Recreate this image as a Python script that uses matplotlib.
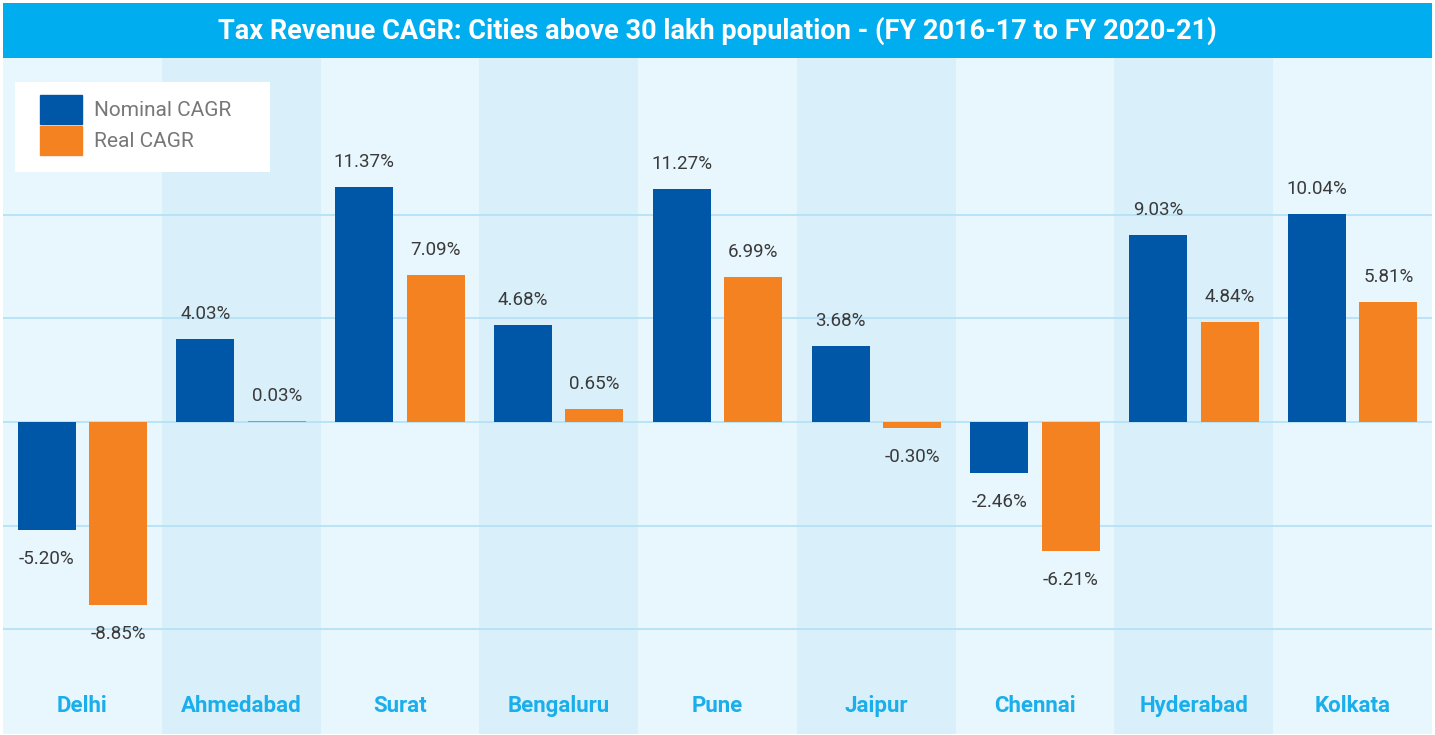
import numpy as np
import matplotlib.pyplot as plt
from matplotlib.patches import Rectangle, Patch

cities = ["Delhi", "Ahmedabad", "Surat", "Bengaluru", "Pune", "Jaipur", "Chennai", "Hyderabad", "Kolkata"]
nominal = [-5.20, 4.03, 11.37, 4.68, 11.27, 3.68, -2.46, 9.03, 10.04]
real = [-8.85, 0.03, 7.09, 0.65, 6.99, -0.30, -6.21, 4.84, 5.81]

title = "Tax Revenue CAGR: Cities above 30 lakh population - (FY 2016-17 to FY 2020-21)"

blue = "#0057A8"
orange = "#F58220"
sky = "#00AEEF"
W, H = 1435, 735

plt.rcParams['font.family'] = ['Roboto', 'DejaVu Sans']
fig = plt.figure(figsize=(W / 100, H / 100), dpi=100)
fig.patch.set_facecolor("white")

# title bar
fig.patches.append(Rectangle((3 / W, 1 - 58 / H), 1429 / W, 55 / H, transform=fig.transFigure,
                             facecolor=sky, edgecolor="none", zorder=0))
fig.text(0.5, 1 - 31 / H, title, color="white", fontsize=19.5, fontweight="bold",
         ha="center", va="center")

AW, AH = 1429, 676
ax = fig.add_axes([3 / W, 1 / H, AW / W, AH / H])
x = np.arange(len(cities))
ax.set_xlim(-0.5, len(cities) - 0.5)
ax.set_ylim(-15.07, 17.58)

# alternating column bands
for i in x:
    ax.axvspan(i - 0.5, i + 0.5, color="#E8F6FD" if i % 2 == 0 else "#D9F0FB", zorder=0, lw=0)

for yv in [-10, -5, 0, 5, 10]:
    ax.axhline(yv, color="#B3E0F7", lw=1.2, zorder=1)

w = 0.365
off = 0.225
b1 = ax.bar(x - off, nominal, w, color=blue, zorder=2)
b2 = ax.bar(x + off, real, w, color=orange, zorder=2)

for bars, vals in [(b1, nominal), (b2, real)]:
    for b, v in zip(bars, vals):
        dy = 18 if v >= 0 else -21
        ax.annotate(f"{v:.2f}%", (b.get_x() + b.get_width() / 2, v), xytext=(0, dy),
                    textcoords="offset points", ha="center", va="center",
                    fontsize=13.5, color="#3a3a3a", zorder=3)

for i, c in enumerate(cities):
    ax.text(i, 28 / AH, c, transform=ax.get_xaxis_transform(), ha="center", va="center",
            fontsize=16, fontweight="bold", color="#1AAEEB")

ax.set_xticks([])
ax.set_yticks([])
for s in ax.spines.values():
    s.set_visible(False)

# legend: white box plus frameless legend inside
ax.add_patch(Rectangle((12 / AW, 1 - 114 / AH), 255 / AW, 90 / AH, transform=ax.transAxes,
                       facecolor="white", edgecolor="none", zorder=4))
handles = [Patch(color=blue, label="Nominal CAGR"), Patch(color=orange, label="Real CAGR")]
leg = ax.legend(handles=handles, loc="upper left", bbox_to_anchor=(37 / AW, 1 - 37 / AH),
                frameon=False, fontsize=15, labelcolor="#777777",
                handlelength=2.0, handleheight=1.75, borderpad=0, labelspacing=0.1,
                handletextpad=0.6, borderaxespad=0)
leg.set_zorder(5)

fig.savefig("out.png", dpi=100)
